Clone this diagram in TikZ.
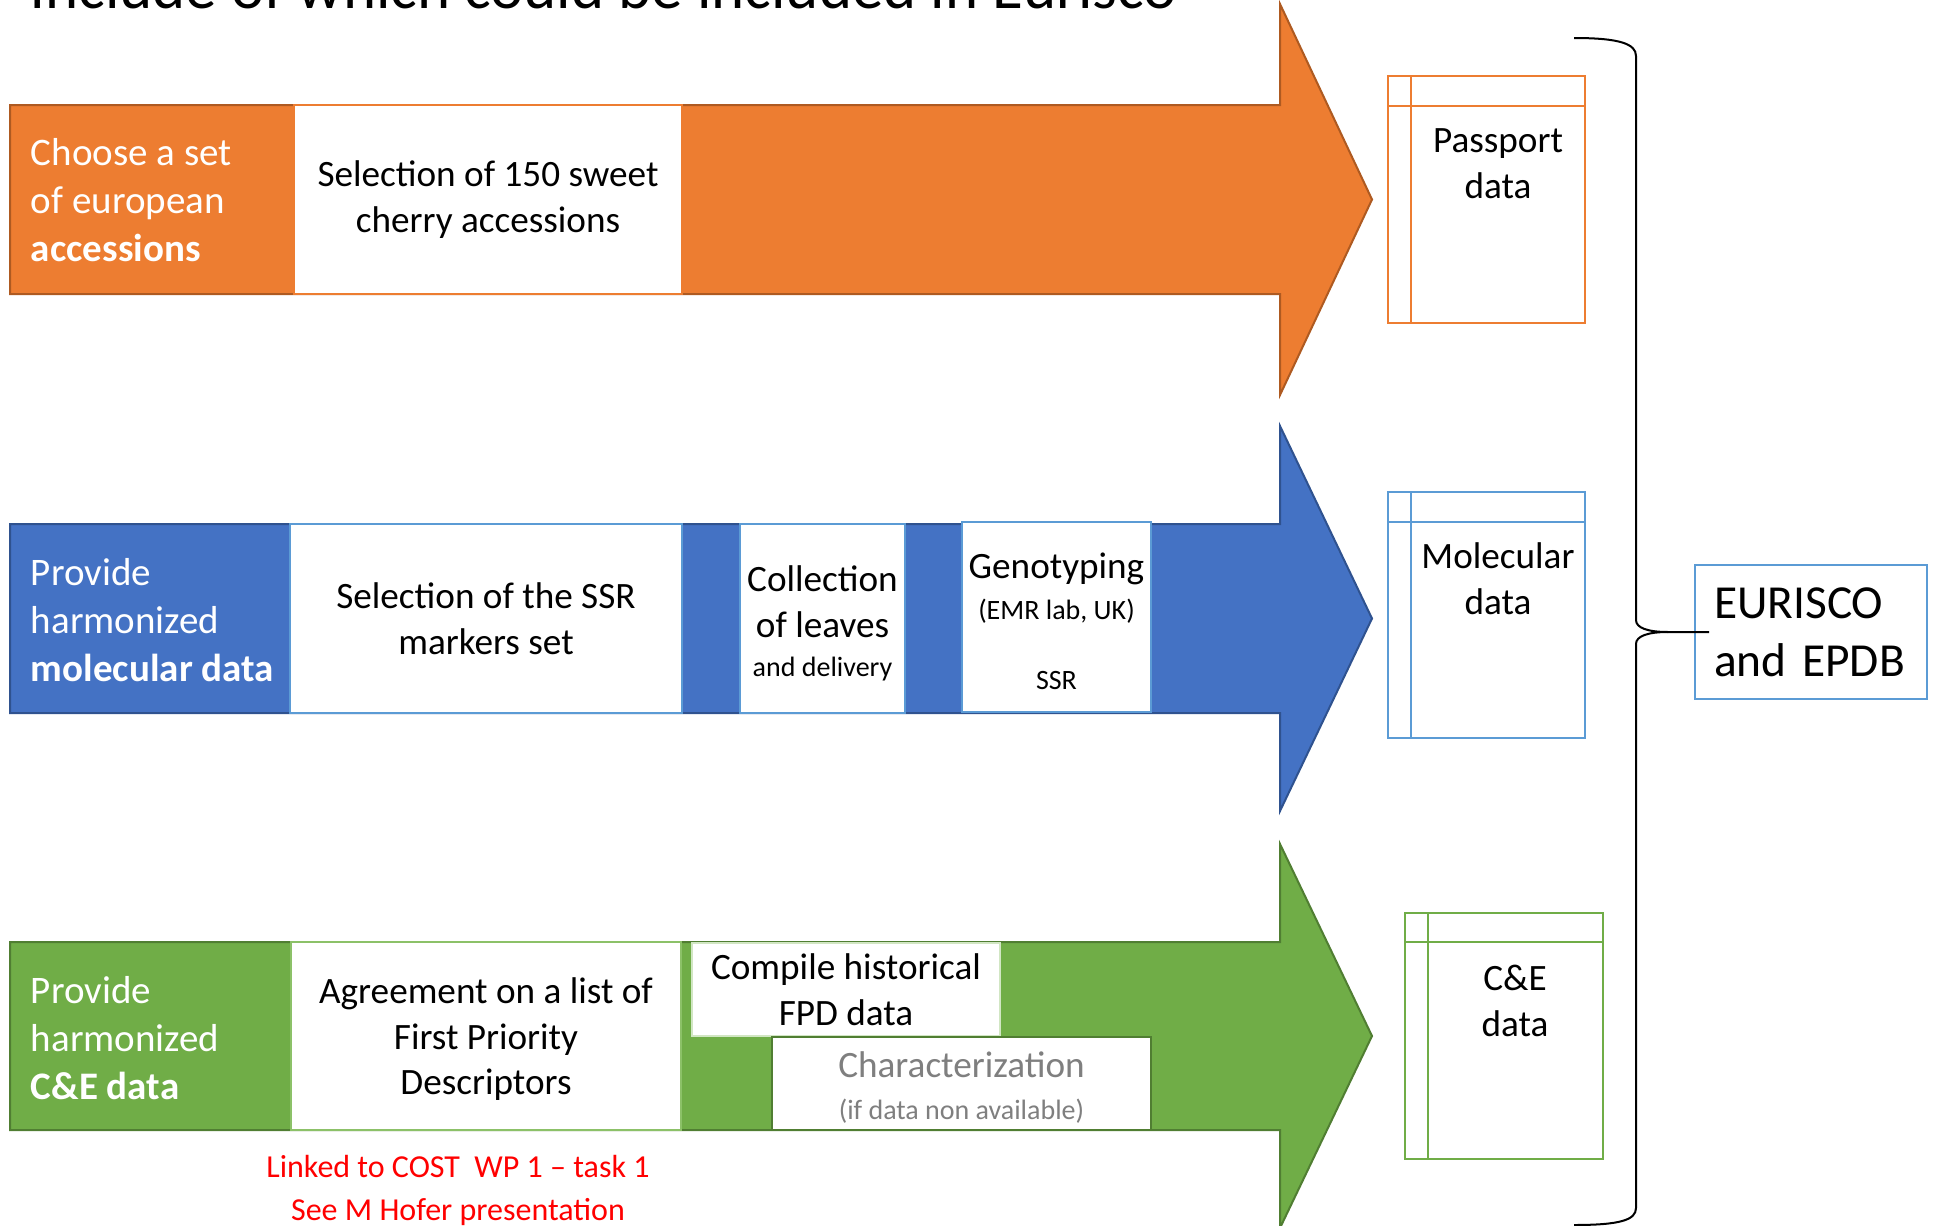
\documentclass[tikz,border=0pt]{standalone}
\usepackage{fontspec}
\setmainfont{Carlito}
\usepackage{tikz}

\definecolor{orangeband}{HTML}{ED7D31}
\definecolor{orangeline}{HTML}{AE5A21}
\definecolor{blueband}{HTML}{4472C4}
\definecolor{blueline}{HTML}{2F528F}
\definecolor{bluelight}{HTML}{5B9BD5}
\definecolor{greenband}{HTML}{70AD47}
\definecolor{greenline}{HTML}{507E32}
\definecolor{greenlight}{HTML}{8CC168}
\definecolor{textgray}{HTML}{7F7F7F}
\newcommand{\smallsize}{\fontsize{14}{17}\selectfont}

\begin{document}
\begin{tikzpicture}[x=0.5pt, y=-0.5pt,
    every node/.style={inner sep=0pt, outer sep=0pt},
    boxtext/.style={font=\fontsize{18.6}{22.8}\selectfont, align=center},
    labeltext/.style={font=\fontsize{19.5}{24}\selectfont, text=white, align=left, anchor=west},
    whitebox/.style={boxtext, draw, line width=1pt, fill=white},
    tabletext/.style={font=\fontsize{18.6}{22.8}\selectfont, align=center, anchor=north}]
    \useasboundingbox (0,0) rectangle (1934,1226);
    \clip (0,0) rectangle (1934,1226);
    % title (cut at the top)
    \node [anchor=base west, font=\fontsize{31.5}{38}\selectfont] (title) at (31,9)
        {include of which could be included in Eurisco};
    % passport row
    \draw [fill=orangeband, draw=orangeline, line width=1pt]
        (10,105) -- (1280,105) -- (1280,4) -- (1372,199.5) -- (1280,395) -- (1280,294) -- (10,294) -- cycle;
    \node [labeltext] (choose) at (31,200) {Choose a set\\of european\\\textbf{accessions}};
    \node [whitebox, draw=orangeband, minimum width=194pt, minimum height=94.5pt] (sel) at (488,199.5)
        {Selection of 150 sweet\\cherry accessions};
    % molecular row
    \draw [fill=blueband, draw=blueline, line width=1pt]
        (10,524) -- (1280,524) -- (1280,426) -- (1372,618.5) -- (1280,811) -- (1280,713) -- (10,713) -- cycle;
    \node [labeltext] (molec) at (31,620) {Provide\\harmonized\\\textbf{molecular data}};
    \node [whitebox, draw=bluelight, minimum width=196pt, minimum height=94.5pt] (ssr) at (486,618.5)
        {Selection of the SSR\\markers set};
    \node [whitebox, draw=bluelight, minimum width=82.5pt, minimum height=94.5pt] (leaves) at (822.5,618.5)
        {\rule{0pt}{18pt}Collection\\of leaves\\[-3pt]{\smallsize and delivery}};
    \node [whitebox, draw=bluelight, minimum width=94.5pt, minimum height=95pt] (geno) at (1056.5,617)
        {\rule{0pt}{17pt}Genotyping\\[-2pt]{\smallsize (EMR lab, UK)}\\[12pt]{\smallsize SSR}};
    % C&E row
    \draw [fill=greenband, draw=greenline, line width=1pt]
        (10,942) -- (1280,942) -- (1280,844) -- (1372,1036) -- (1280,1228) -- (1280,1130) -- (10,1130) -- cycle;
    \node [labeltext] (cande) at (31,1038.5) {Provide\\harmonized\\\textbf{C\&E data}};
    \node [whitebox, draw=greenlight, minimum width=195pt, minimum height=94pt] (agree) at (486,1036)
        {\rule{0pt}{16pt}Agreement on a list of\\First Priority\\Descriptors};
    \node [whitebox, draw=greenlight!40, minimum width=154pt, minimum height=46.5pt] (compile) at (846,989.5)
        {Compile historical\\FPD data};
    \node [whitebox, draw=greenline, text=textgray, minimum width=189.5pt, minimum height=46.5pt] (charact) at (961.5,1083.5)
        {\rule{0pt}{17pt}Characterization\\[-2pt]{\smallsize (if data non available)}};
    \node [font=\fontsize{16}{21.5}\selectfont, text=red, align=center] (cost) at (458,1190)
        {Linked to COST\ \ WP 1 -- task 1\\See M Hofer presentation};
    % tables
    \draw [orangeband, line width=1pt] (1388,76) rectangle (1585,323);
    \draw [orangeband, line width=1pt] (1388,106) -- (1585,106);
    \draw [orangeband, line width=1pt] (1411,76) -- (1411,323);
    \node [tabletext] (passport) at (1498,129) {Passport\\data};
    \draw [bluelight, line width=1pt] (1388,492) rectangle (1585,738);
    \draw [bluelight, line width=1pt] (1388,522) -- (1585,522);
    \draw [bluelight, line width=1pt] (1411,492) -- (1411,738);
    \node [tabletext] (moldata) at (1498,543) {Molecular\\data};
    \draw [greenband, line width=1pt] (1405,913) rectangle (1603,1159);
    \draw [greenband, line width=1pt] (1405,942) -- (1603,942);
    \draw [greenband, line width=1pt] (1428,913) -- (1428,1159);
    \node [tabletext] (cedata) at (1515,965) {C\&E\\data};
    % EURISCO
    \node [draw=bluelight, line width=1pt, fill=white, font=\fontsize{23.7}{29}\selectfont, align=left,
        text width=97pt, inner xsep=9.5pt, minimum height=67pt] (eurisco) at (1811,632) {EURISCO\\and EPDB};
    % brace
    \coordinate (bracetip) at (1709,632);
    \draw [line width=1pt] (1574,38) .. controls (1620,38) and (1636,44) .. (1636,56) -- (1636,620)
        .. controls (1636,628) and (1648,632) .. (1668,632) -- (bracetip);
    \draw [line width=1pt] (1668,632) .. controls (1648,632) and (1636,636) .. (1636,644) -- (1636,1208)
        .. controls (1636,1220) and (1620,1225) .. (1574,1225);
\end{tikzpicture}
\end{document}
